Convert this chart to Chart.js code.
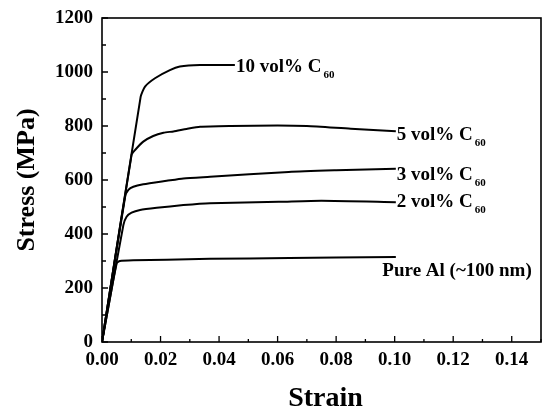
<!DOCTYPE html>
<html>
<head>
<meta charset="utf-8">
<script src="https://cdn.jsdelivr.net/npm/chart.js@4/dist/chart.umd.min.js"></script>
<style>
  html, body { margin: 0; padding: 0; background: #fff; }
  #wrap { width: 547px; height: 409px; }
</style>
</head>
<body>
<div id="wrap"><canvas id="stressChart"></canvas></div>
<script>
// 数据 - 应力应变曲线
const pureAlStrain = [0, 0.005, 0.0061, 0.0107, 0.0221, 0.0369, 0.064, 0.08, 0.1004];
const pureAlStress = [0, 291, 300, 303, 305, 308, 311, 313, 315];

const vol2Strain = [0, 0.0073, 0.0084, 0.0101, 0.013, 0.0187, 0.0278, 0.0369, 0.0604, 0.075, 0.1004];
const vol2Stress = [0, 433, 464, 479, 489, 497, 507, 514, 519, 523, 518];

const vol3Strain = [0, 0.0079, 0.009, 0.0107, 0.0141, 0.0221, 0.0278, 0.0369, 0.0638, 0.08, 0.1004];
const vol3Stress = [0, 538, 563, 575, 584, 597, 606, 612, 630, 636, 642];

const vol5Strain = [0, 0.0101, 0.0113, 0.0141, 0.0175, 0.021, 0.0244, 0.0289, 0.0335, 0.044, 0.06, 0.07, 0.085, 0.1004];
const vol5Stress = [0, 693, 711, 742, 763, 775, 780, 789, 797, 800, 802, 800, 790, 781];

const vol10Strain = [0, 0.0132, 0.0147, 0.0181, 0.0232, 0.0266, 0.0335, 0.0454];
const vol10Stress = [0, 908, 946, 977, 1007, 1020, 1026, 1026];

const xTickValues = [0, 0.02, 0.04, 0.06, 0.08, 0.10, 0.12, 0.14];
const xMinorValues = [0.01, 0.03, 0.05, 0.07, 0.09, 0.11, 0.13, 0.15];
const yTickValues = [0, 200, 400, 600, 800, 1000, 1200];
const yMinorValues = [100, 300, 500, 700, 900, 1100];

const seriesNames = ['Pure Al (~100 nm)', '2 vol% C', '3 vol% C', '5 vol% C', '10 vol% C'];
const seriesSubs = ['', '60', '60', '60', '60'];

const xTitle = 'Strain';
const yTitle = 'Stress (MPa)';

// 标注位置 (数据坐标, 文字基线左端)
const labelAnchors = [
    { x: 0.0958, y: 245 },
    { x: 0.1007, y: 500 },
    { x: 0.1007, y: 600 },
    { x: 0.1007, y: 748 },
    { x: 0.0458, y: 1000 }
];

const serif = '"Liberation Serif", "Times New Roman", serif';

function toPoints(xs, ys) {
    return xs.map((x, i) => ({ x: x, y: ys[i] }));
}

function makeSet(label, xs, ys) {
    return {
        label: label,
        data: toPoints(xs, ys),
        borderColor: '#000',
        borderWidth: 2,
        borderJoinStyle: 'round',
        pointRadius: 0,
        fill: false,
        tension: 0.2
    };
}

// 自定义绘制: 边框、内刻度、轴标题、曲线标注
const framePlugin = {
    id: 'frame',
    afterDraw(chart) {
        const ctx = chart.ctx;
        const a = chart.chartArea;
        const xs = chart.scales.x;
        const ys = chart.scales.y;
        ctx.save();
        ctx.strokeStyle = '#000';
        ctx.lineWidth = 1.6;
        ctx.strokeRect(a.left, a.top, a.right - a.left, a.bottom - a.top);

        ctx.lineWidth = 1.3;
        ctx.beginPath();
        xTickValues.forEach(v => {
            const px = xs.getPixelForValue(v);
            ctx.moveTo(px, a.bottom);
            ctx.lineTo(px, a.bottom - 6);
        });
        xMinorValues.forEach(v => {
            const px = xs.getPixelForValue(v);
            ctx.moveTo(px, a.bottom);
            ctx.lineTo(px, a.bottom - 3);
        });
        yTickValues.forEach(v => {
            const py = ys.getPixelForValue(v);
            ctx.moveTo(a.left, py);
            ctx.lineTo(a.left + 6, py);
        });
        yMinorValues.forEach(v => {
            const py = ys.getPixelForValue(v);
            ctx.moveTo(a.left, py);
            ctx.lineTo(a.left + 4, py);
        });
        ctx.stroke();

        ctx.fillStyle = '#000';

        // 轴标题
        ctx.textAlign = 'center';
        ctx.textBaseline = 'alphabetic';
        ctx.font = 'bold 28px ' + serif;
        ctx.fillText(xTitle, (a.left + a.right) / 2 + 4, a.bottom + 64);
        ctx.save();
        ctx.translate(34, (a.top + a.bottom) / 2);
        ctx.rotate(-Math.PI / 2);
        ctx.font = 'bold 26px ' + serif;
        ctx.fillText(yTitle, 0, 0);
        ctx.restore();

        // 曲线标注
        ctx.textAlign = 'left';
        seriesNames.forEach((name, i) => {
            const px = xs.getPixelForValue(labelAnchors[i].x);
            const py = ys.getPixelForValue(labelAnchors[i].y);
            ctx.font = 'bold 19px ' + serif;
            ctx.fillText(name, px, py);
            if (seriesSubs[i]) {
                const w = ctx.measureText(name).width;
                ctx.font = 'bold 11px ' + serif;
                ctx.fillText(seriesSubs[i], px + w + 2, py + 6);
            }
        });
        ctx.restore();
    }
};

Chart.defaults.font.family = serif;
Chart.defaults.color = '#000';

new Chart(document.getElementById('stressChart'), {
    type: 'line',
    data: {
        datasets: [
            makeSet(seriesNames[0], pureAlStrain, pureAlStress),
            makeSet(seriesNames[1], vol2Strain, vol2Stress),
            makeSet(seriesNames[2], vol3Strain, vol3Stress),
            makeSet(seriesNames[3], vol5Strain, vol5Stress),
            makeSet(seriesNames[4], vol10Strain, vol10Stress)
        ]
    },
    options: {
        responsive: true,
        maintainAspectRatio: false,
        devicePixelRatio: 1,
        animation: false,
        layout: { padding: { left: 0, top: 18, right: 6, bottom: 0 } },
        plugins: {
            legend: { display: false },
            tooltip: { enabled: false }
        },
        scales: {
            x: {
                type: 'linear',
                min: 0,
                max: 0.15,
                afterBuildTicks(scale) {
                    scale.ticks = xTickValues.map(v => ({ value: v }));
                },
                afterFit(scale) { scale.height = 67; },
                grid: { display: false, drawTicks: false },
                border: { display: false },
                ticks: {
                    padding: 9,
                    maxRotation: 0,
                    autoSkip: false,
                    font: { size: 19, weight: 'bold', lineHeight: 1 },
                    callback: v => v.toFixed(2)
                }
            },
            y: {
                type: 'linear',
                min: 0,
                max: 1200,
                afterBuildTicks(scale) {
                    scale.ticks = yTickValues.map(v => ({ value: v }));
                },
                afterFit(scale) {
                    scale.width = 102;
                    scale.paddingTop = 0;
                    scale.paddingBottom = 0;
                },
                grid: { display: false, drawTicks: false },
                border: { display: false },
                ticks: {
                    padding: 9,
                    autoSkip: false,
                    font: { size: 19, weight: 'bold', lineHeight: 1 },
                    callback: v => String(v)
                }
            }
        }
    },
    plugins: [framePlugin]
});
</script>
</body>
</html>
